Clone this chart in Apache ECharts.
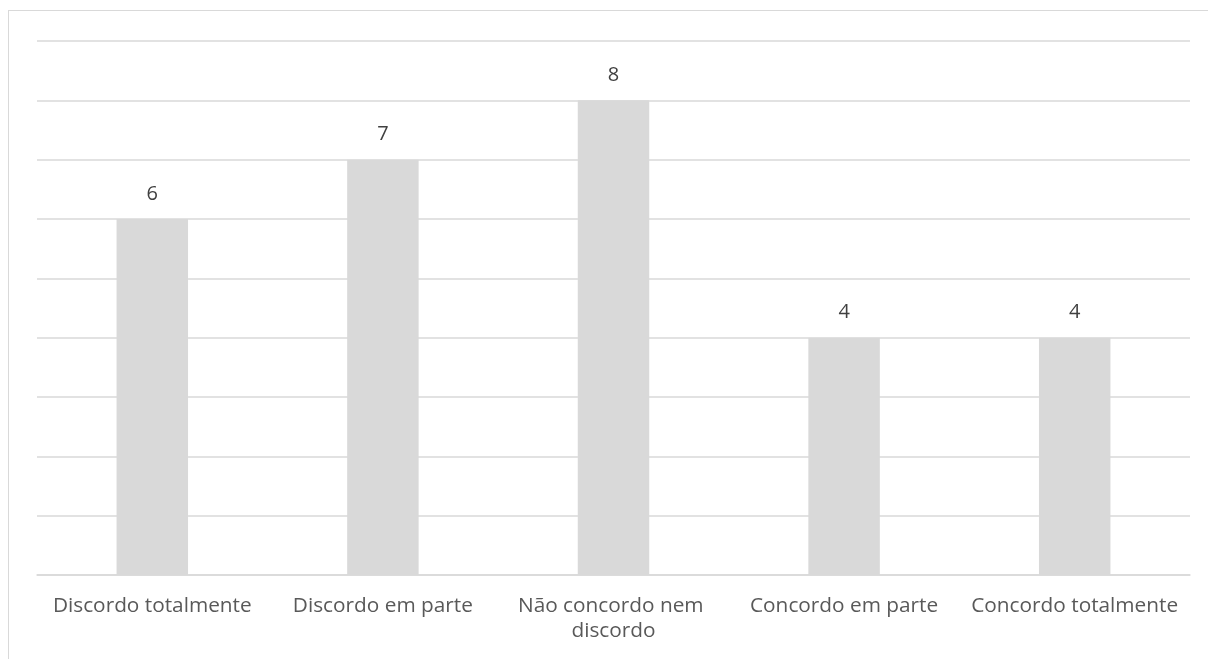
<!DOCTYPE html>
<html>
<head>
<meta charset="utf-8">
<script src="https://cdn.jsdelivr.net/npm/echarts@6/dist/echarts.min.js"></script>
<style>
  html, body { margin: 0; padding: 0; background: #fff; }
  #frame { position: absolute; left: 8px; top: 10px; width: 1300px; height: 700px; border: 1px solid #d9d9d9; box-sizing: border-box; }
  #chart { position: absolute; left: 0; top: 0; width: 1208px; height: 659px; }
</style>
</head>
<body>
<div id="frame"></div>
<div id="chart"></div>
<script>
const categories = ['Discordo totalmente', 'Discordo em parte', 'Não concordo nem discordo', 'Concordo em parte', 'Concordo totalmente'];
const values = [6, 7, 8, 4, 4];

const chart = echarts.init(document.getElementById('chart'), null, { renderer: 'canvas' });
chart.setOption({
  backgroundColor: 'transparent',
  animation: false,
  grid: { left: 37, right: 18, top: 41, bottom: 84 },
  xAxis: {
    type: 'category',
    data: categories,
    axisLine: { show: true, lineStyle: { color: '#d9d9d9', width: 1.5 } },
    axisTick: { show: false },
    axisLabel: {
      interval: 0,
      color: '#595959',
      fontFamily: 'Open Sans',
      fontSize: 20.8,
      margin: 19,
      lineHeight: 25,
      width: 228,
      overflow: 'break'
    }
  },
  yAxis: {
    type: 'value',
    min: 0,
    max: 9,
    interval: 1,
    axisLabel: { show: false },
    axisLine: { show: false },
    axisTick: { show: false },
    splitLine: { lineStyle: { color: '#d9d9d9', width: 1.5 } }
  },
  series: [{
    type: 'bar',
    data: values,
    barWidth: '31%',
    itemStyle: { color: '#d9d9d9' },
    label: {
      show: true,
      position: 'top',
      distance: 15,
      color: '#404040',
      fontFamily: 'Open Sans',
      fontSize: 20
    }
  }]
});
</script>
</body>
</html>
